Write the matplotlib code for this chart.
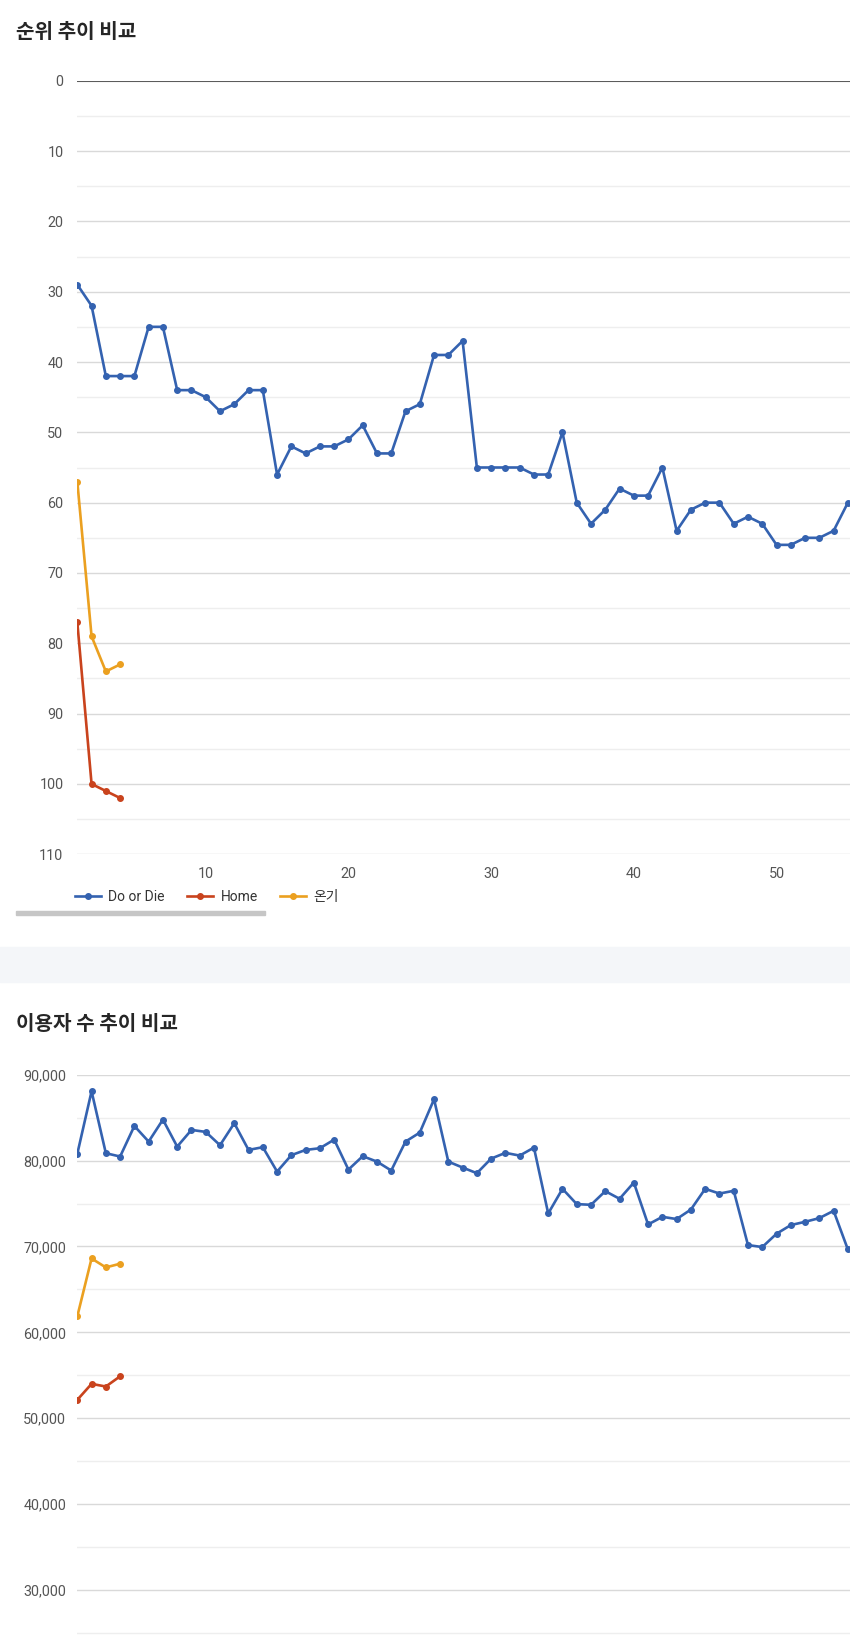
import matplotlib.pyplot as plt
from matplotlib.ticker import MultipleLocator, FuncFormatter
from matplotlib.patches import Rectangle

plt.rcParams['font.family'] = ['Roboto', 'Noto Sans CJK KR', 'DejaVu Sans']

days = list(range(1, 56))

# rank (lower is better)
rank_dod = [29, 32, 42, 42, 42, 35, 35, 44, 44, 45, 47, 46, 44, 44, 56,
            52, 53, 52, 52, 51, 49, 53, 53, 47, 46, 39, 39, 37, 55, 55,
            55, 55, 56, 56, 50, 60, 63, 61, 58, 59, 59, 55, 64, 61, 60,
            60, 63, 62, 63, 66, 66, 65, 65, 64, 60]
rank_home = [77, 100, 101, 102]
rank_ongi = [57, 79, 84, 83]

# users
users_dod = [80780, 88070, 80860, 80470, 84030, 82210, 84770, 81630, 83570, 83340,
             81790, 84350, 81240, 81560, 78720, 80630, 81240, 81440, 82440, 78950,
             80510, 79880, 78840, 82210, 83260, 87140, 79880, 79190, 78530, 80230,
             80900, 80580, 81510, 73840, 76710, 74930, 74850, 76440, 75550, 77440,
             72560, 73450, 73190, 74300, 76710, 76160, 76480, 70160, 69930, 71480,
             72490, 72870, 73300, 74150, 69650]
users_home = [52140, 54000, 53690, 54880]
users_ongi = [61860, 68600, 67560, 67990]

series_names = ['Do or Die', 'Home', '온기']
colors = ['#3462b0', '#c9431d', '#eba020']

W, H = 850, 1643
fig = plt.figure(figsize=(W / 100, H / 100), dpi=100)
fig.patch.set_facecolor('white')


def px_axes(left, top, right, bottom):
    return fig.add_axes([left / W, 1 - bottom / H, (right - left) / W, (bottom - top) / H])


def style(ax, major, minor, pad):
    for s in ax.spines.values():
        s.set_visible(False)
    ax.yaxis.set_major_locator(MultipleLocator(major))
    ax.yaxis.set_minor_locator(MultipleLocator(minor))
    ax.xaxis.set_major_locator(MultipleLocator(10))
    ax.tick_params(which='both', length=0, labelsize=10.4, labelcolor='#555555')
    ax.tick_params(axis='y', pad=pad)
    ax.tick_params(axis='x', pad=9)
    ax.grid(which='major', axis='y', color='#d9d9d9', lw=1.0)
    ax.grid(which='minor', axis='y', color='#eeeeee', lw=1.0)
    ax.set_axisbelow(True)
    ax.set_facecolor('none')


def draw(ax, d, h, o):
    for vals, c in zip([d, h, o], colors):
        ax.plot(days[:len(vals)], vals, color=c, lw=1.9, marker='o', ms=4, zorder=3)


x_right = 1 + (850 - 77.3) / 14.27

# rank chart
ax1 = px_axes(77.3, 80.7, 850, 854.3)
style(ax1, 10, 5, 10)
draw(ax1, rank_dod, rank_home, rank_ongi)
ax1.set_xlim(1, x_right)
ax1.set_ylim(110, 0)
ax1.axhline(0, color='#444444', lw=1.2, zorder=2)
ax1.xaxis.set_major_formatter(FuncFormatter(lambda v, p: '' if v < 5 else f'{v:.0f}'))

# users chart
ax2 = px_axes(77.3, 1074.7, 850, 1643)
style(ax2, 10000, 5000, 8)
draw(ax2, users_dod, users_home, users_ongi)
ax2.set_xlim(1, x_right)
ax2.set_ylim(90000 - (1643 - 1074.7) / 8.588 * 1000, 90000)
ax2.yaxis.set_major_formatter(FuncFormatter(lambda v, p: f'{v:,.0f}'))
ax2.tick_params(axis='x', labelbottom=False)

# titles
fig.text(16 / W, 1 - 32 / H, '순위 추이 비교', fontsize=14.5, fontweight='bold',
         color='#262626', va='center', ha='left', family=['Noto Sans CJK KR'])
fig.text(16 / W, 1 - 1023 / H, '이용자 수 추이 비교', fontsize=14.5, fontweight='bold',
         color='#262626', va='center', ha='left', family=['Noto Sans CJK KR'])

# legend
handles = [plt.Line2D([], [], color=c, lw=1.9, marker='o', ms=4) for c in colors]
fig.legend(handles, series_names, loc='center left', bbox_to_anchor=(75 / W, 1 - 897 / H),
           frameon=False, ncol=3, fontsize=10, handlelength=1.9, handletextpad=0.5,
           columnspacing=1.6, borderpad=0, borderaxespad=0, labelcolor='#333333')

# scrollbar and card separator
fig.patches.append(Rectangle((16 / W, 1 - 915 / H), 249 / W, 4 / H, transform=fig.transFigure,
                             color='#c6c6c6', zorder=5))
fig.patches.append(Rectangle((0, 1 - 981.7 / H), 1, 35 / H, transform=fig.transFigure,
                             color='#f4f6f9', zorder=0))

fig.savefig('out.png', dpi=100)
